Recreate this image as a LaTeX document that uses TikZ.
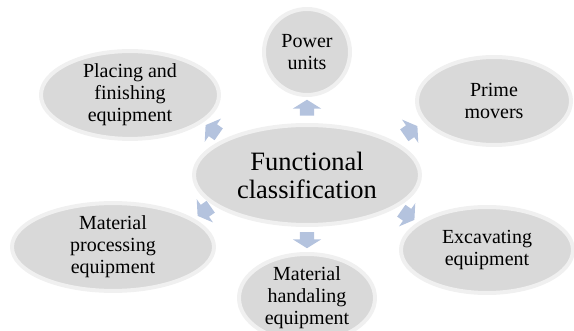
\documentclass[tikz,border=0pt]{standalone}
\usepackage{fontspec}
\setmainfont{Liberation Serif}
\usetikzlibrary{shapes.geometric,shapes.arrows}
\definecolor{spokeblue}{HTML}{B4C3DE}

\begin{document}
\begin{tikzpicture}[x=1pt,y=-1pt,
  item/.style={ellipse,draw=gray!12,line width=4pt,fill=gray!30,inner sep=0pt,
    align=center,font=\fontsize{20}{22}\selectfont},
  spoke/.style={single arrow,fill=spokeblue,draw=none,inner xsep=0pt,inner ysep=7pt,
    minimum height=16pt,single arrow head extend=7pt,single arrow tip angle=116}]
  \useasboundingbox (0,0) rectangle (574,331);
  \clip (0,0) rectangle (574,331);
  % hub
  \node[item,minimum width=226pt,minimum height=100pt,
        font=\fontsize{26.5}{28}\selectfont] (hub) at (307,175) {Functional\\classification};
  % the six classes, clockwise from the top
  \node[item,circle,minimum size=86pt] (power) at (307,52) {Power\\units};
  \node[item,minimum width=154pt,minimum height=88pt] (prime) at (494,101) {Prime\\movers};
  \node[item,minimum width=172pt,minimum height=86pt] (excav) at (487,250) {Excavating\\equipment};
  \node[item,minimum width=136pt,minimum height=88pt] (handl) at (307,298) {Material\\handaling\\equipment};
  \node[item,minimum width=202pt,minimum height=86pt] (proc) at (113,247) {Material\\processing\\equipment};
  \node[item,minimum width=178pt,minimum height=86pt] (place) at (130,95) {Placing and\\finishing\\equipment};
  % block arrows out of the hub
  \node[spoke,rotate=90]   (toPower) at (307,110) {};
  \node[spoke,rotate=35]   (toPrime) at (409,132) {};
  \node[spoke,rotate=-35]  (toExcav) at (406,214) {};
  \node[spoke,rotate=-90]  (toHandl) at (307,238) {};
  \node[spoke,rotate=-145] (toProc)  at (206,210) {};
  \node[spoke,rotate=145]  (toPlace) at (214,131) {};
\end{tikzpicture}
\end{document}
